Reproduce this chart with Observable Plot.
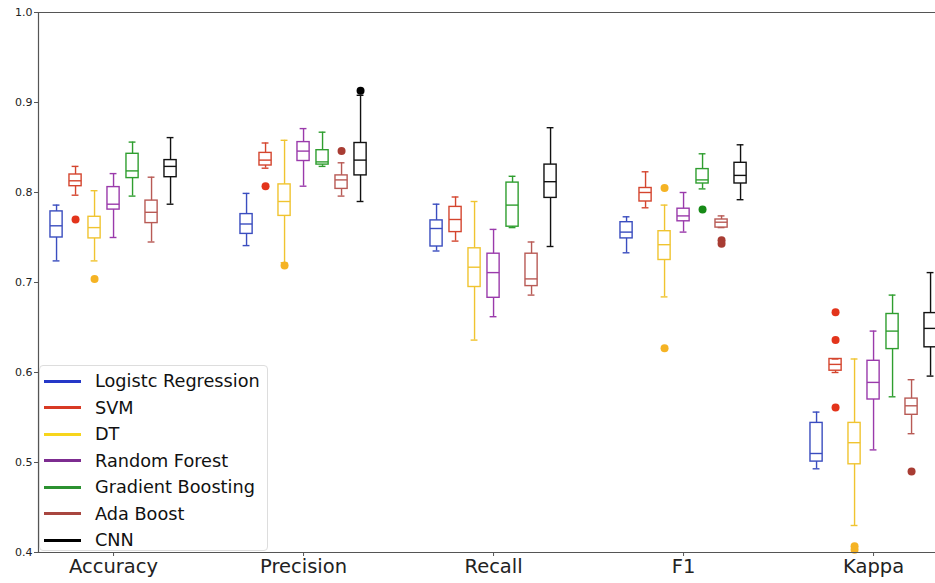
<!DOCTYPE html>
<html><head><meta charset="utf-8">
<script src="https://cdn.jsdelivr.net/npm/d3@7"></script>
<script src="https://cdn.jsdelivr.net/npm/@observablehq/plot@0.6"></script>
<style>
body{margin:0;background:#fff;font-family:"DejaVu Sans",sans-serif;}
#wrap{position:relative;width:935px;height:583px;}
#legend{position:absolute;left:39px;top:365px;width:229px;height:186px;background:#fff;border:1px solid #ddd;border-radius:4px;box-sizing:border-box;}
.item{position:absolute;left:4px;height:22px;display:flex;align-items:center;font-size:17.7px;color:#111;white-space:nowrap;}
.item span.ln{display:inline-block;width:37px;height:3px;margin-right:14px;}
</style></head>
<body><div id="wrap"><div id="chart"></div><div id="legend"></div></div>
<script>
const metrics = ["Accuracy", "Precision", "Recall", "F1", "Kappa"];
const models = ["Logistc Regression", "SVM", "DT", "Random Forest", "Gradient Boosting", "Ada Boost", "CNN"];
const boxColors = ["#3a4dbf", "#d4452e", "#f0c430", "#9a3aab", "#2f9e2f", "#b85a55", "#111111"];
const legendColors = ["#2538c8", "#d83a24", "#f7d51c", "#7d2c90", "#2b9130", "#a8463f", "#000000"];
const dotColors = ["#2538c8", "#e3341b", "#f5b324", "#7d2c90", "#178a17", "#a83c33", "#000000"];

// each entry: [whiskerLow, q1, median, q3, whiskerHigh] per metric
const lrStats  = [[0.724,0.750,0.763,0.779,0.786],[0.741,0.754,0.765,0.776,0.799],[0.735,0.740,0.760,0.769,0.787],[0.733,0.749,0.756,0.767,0.773],[0.493,0.501,0.510,0.544,0.556]];
const svmStats = [[0.797,0.807,0.813,0.820,0.829],[0.827,0.830,0.836,0.844,0.855],[0.746,0.756,0.770,0.784,0.795],[0.783,0.790,0.800,0.805,0.823],[0.600,0.602,0.609,0.615,0.615]];
const dtStats  = [[0.724,0.749,0.761,0.773,0.802],[0.722,0.774,0.790,0.809,0.858],[0.636,0.695,0.717,0.738,0.790],[0.684,0.725,0.742,0.757,0.786],[0.430,0.498,0.522,0.544,0.615]];
const rfStats  = [[0.750,0.781,0.787,0.806,0.821],[0.807,0.835,0.846,0.856,0.871],[0.662,0.683,0.711,0.732,0.759],[0.756,0.768,0.774,0.782,0.800],[0.514,0.570,0.589,0.613,0.646]];
const gbStats  = [[0.796,0.816,0.824,0.843,0.856],[0.829,0.831,0.834,0.847,0.867],[0.761,0.762,0.786,0.811,0.818],[0.804,0.810,0.814,0.826,0.843],[0.573,0.626,0.646,0.665,0.686]];
const adaStats = [[0.745,0.766,0.778,0.791,0.817],[0.796,0.804,0.814,0.819,0.833],[0.686,0.696,0.704,0.732,0.745],[0.761,0.761,0.767,0.770,0.774],[0.532,0.553,0.563,0.571,0.592]];
const cnnStats = [[0.787,0.817,0.829,0.836,0.861],[0.790,0.819,0.836,0.855,0.908],[0.740,0.794,0.812,0.831,0.872],[0.792,0.810,0.819,0.833,0.853],[0.596,0.628,0.649,0.666,0.711]];
const allStats = [lrStats, svmStats, dtStats, rfStats, gbStats, adaStats, cnnStats];

// outliers: [modelIndex, metricIndex, value]
const outliers = [
  [1,0,0.770],[2,0,0.704],
  [1,1,0.807],[2,1,0.719],[5,1,0.846],[6,1,0.913],
  [2,3,0.805],[2,3,0.627],[4,3,0.781],[5,3,0.747],[5,3,0.743],
  [1,4,0.667],[1,4,0.636],[1,4,0.561],[2,4,0.407],[2,4,0.403],[5,4,0.490]
];

const step = 0.1, half = 0.032, cap = 0.018;
const rows = [];
allStats.forEach((st, j) => st.forEach((s, i) => rows.push({
  x: i + (j - 3) * step, lo: s[0], q1: s[1], med: s[2], q3: s[3], hi: s[4], color: boxColors[j]
})));
const dots = outliers.map(([j, i, v]) => ({x: i + (j - 3) * step, v, color: dotColors[j]}));

const xmin = -0.395, xmax = 4.326;
const chart = Plot.plot({
  width: 935, height: 583,
  marginLeft: 38, marginRight: 0, marginTop: 12, marginBottom: 31,
  style: {fontFamily: "DejaVu Sans, sans-serif", color: "#222", background: "#fff"},
  x: {domain: [xmin, xmax]},
  y: {domain: [0.4, 1.0]},
  color: {type: "identity"},
  marks: [
    Plot.axisY({ticks: [0.4,0.5,0.6,0.7,0.8,0.9,1.0], tickFormat: d3.format(".1f"), fontSize: 11, tickSize: 4, tickPadding: 2, label: null, stroke: "#555"}),
    Plot.axisX({ticks: [0,1,2,3,4], tickFormat: i => metrics[i], fontSize: 19.5, tickSize: 4, tickPadding: 3, label: null, stroke: "#555"}),
    Plot.ruleX(rows, {x: "x", y1: "lo", y2: "q1", stroke: "color", strokeWidth: 1.4}),
    Plot.ruleX(rows, {x: "x", y1: "q3", y2: "hi", stroke: "color", strokeWidth: 1.4}),
    Plot.ruleY(rows, {y: "lo", x1: d => d.x - cap, x2: d => d.x + cap, stroke: "color", strokeWidth: 1.4}),
    Plot.ruleY(rows, {y: "hi", x1: d => d.x - cap, x2: d => d.x + cap, stroke: "color", strokeWidth: 1.4}),
    Plot.rect(rows, {x1: d => d.x - half, x2: d => d.x + half, y1: "q1", y2: "q3", stroke: "color", fill: "none", strokeWidth: 1.4}),
    Plot.ruleY(rows, {y: "med", x1: d => d.x - half, x2: d => d.x + half, stroke: "color", strokeWidth: 1.4}),
    Plot.dot(dots, {x: "x", y: "v", r: 4, fill: "color", stroke: "none"}),
    Plot.ruleX([xmin], {stroke: "#555", strokeWidth: 1.2}),
    Plot.ruleY([0.4, 1.0], {stroke: "#555", strokeWidth: 1.2})
  ]
});
document.getElementById("chart").appendChild(chart);

const leg = document.getElementById("legend");
models.forEach((m, j) => {
  const d = document.createElement("div");
  d.className = "item";
  d.style.top = (4 + j * 26.5) + "px";
  d.innerHTML = `<span class="ln" style="background:${legendColors[j]}"></span>${m}`;
  leg.appendChild(d);
});
</script></body></html>
